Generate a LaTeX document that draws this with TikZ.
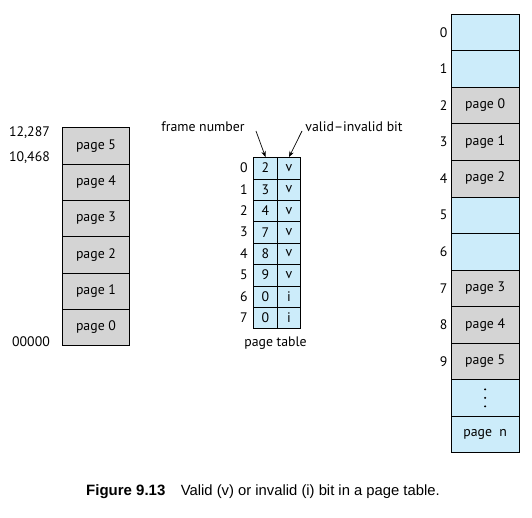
\documentclass[tikz,border=0pt]{standalone}
\usepackage{fontspec}
\setmainfont{PT Sans}
\newfontfamily\capfont{Liberation Sans}
\usetikzlibrary{arrows.meta}
\definecolor{memblue}{RGB}{204,236,250}
\definecolor{memgray}{RGB}{212,212,212}
\begin{document}
\begin{tikzpicture}[x=1pt,y=-1pt,
  font=\fontsize{13.8}{15}\selectfont,
  cellbox/.style={inner sep=0pt},
  rule/.style={line width=0.7pt},
  bigcell/.style={cellbox, minimum width=67pt, minimum height=36.4pt},
  graycell/.style={bigcell, fill=memgray},
  bluecell/.style={bigcell, fill=memblue},
  ptcell/.style={cellbox, fill=memblue, minimum height=21.4pt},
  ptcola/.style={ptcell, minimum width=24pt},
  ptcolb/.style={ptcell, minimum width=23pt},
  lbl/.style={inner sep=0pt},
  ptr/.style={line width=0.7pt, -{Stealth[length=6pt,width=4.5pt]}}]
\useasboundingbox (0,0) rectangle (532,518);

% logical memory
\foreach \i in {0,...,5}{
  \pgfmathsetmacro{\yy}{127.5+36.35*(\i+0.5)}
  \pgfmathtruncatemacro{\pg}{5-\i}
  \node[graycell] (l\pg) at (96,\yy) {page \pg};
}
\draw[rule] (l5.north west) rectangle (l0.south east);
\foreach \i in {1,...,5}{
  \draw[rule] (l\i.south west) -- (l\i.south east);
}
\node[lbl, anchor=east] (a1) at (50,133) {12,287};
\node[lbl, anchor=east] (a2) at (50,158) {10,468};
\node[lbl, anchor=east] (a0) at (50,341.5) {00000};

% page table
\foreach \j/\f/\b in {0/2/v,1/3/v,2/4/v,3/7/v,4/8/v,5/9/v,6/0/i,7/0/i}{
  \pgfmathsetmacro{\yy}{157.3+21.4*(\j+0.5)}
  \node[ptcola] (pa\j) at (265.5,\yy) {\f};
  \node[ptcolb] (pb\j) at (289,\yy) {\b};
  \node[lbl] (pn\j) at (244,\yy) {\j};
}
\draw[rule] (pa0.north west) rectangle (pb7.south east);
\draw[rule] (pa0.north east) -- (pa7.south east);
\foreach \j in {0,...,6}{
  \draw[rule] (pa\j.south west) -- (pb\j.south east);
}
\node[lbl] (ptlabel) at (275.5,343) {page table};
\node[lbl] (fnlabel) at (203,127) {frame number};
\node[lbl] (vilabel) at (354,127) {valid–invalid bit};
\coordinate (fnstart) at (256,131);
\coordinate (vistart) at (302,131);
\draw[ptr] (fnstart) -- (pa0.north);
\draw[ptr] (vistart) -- (pb0.north);

% physical memory
\foreach \k/\t/\s in {0//bluecell,1//bluecell,2/page 0/graycell,3/page 1/graycell,4/page 2/graycell,5//bluecell,6//bluecell,7/page 3/graycell,8/page 4/graycell,9/page 5/graycell,10//bluecell,11/page\ \ n/bluecell}{
  \pgfmathsetmacro{\yy}{14+36.56*(\k+0.5)}
  \node[\s] (r\k) at (485.2,\yy) {\t};
}
\draw[rule] (r0.north west) rectangle (r11.south east);
\foreach \k in {0,...,10}{
  \draw[rule] (r\k.south west) -- (r\k.south east);
}
\foreach \k in {0,...,9}{
  \node[lbl, anchor=east] (rn\k) at ([xshift=-4pt]r\k.west) {\k};
}
\foreach \d in {-8.5,0,8.5}{
  \fill ([yshift=\d pt]r10.center) circle (1.1pt);
}

% caption
\node[lbl, anchor=west, font=\capfont\bfseries\fontsize{15}{17}\selectfont] (capa) at (86,491.7) {Figure 9.13};
\node[lbl, anchor=west, font=\capfont\fontsize{14.8}{17}\selectfont] (capb) at (180.7,491.7) {Valid (v) or invalid (i) bit in a page table.};
\end{tikzpicture}
\end{document}
